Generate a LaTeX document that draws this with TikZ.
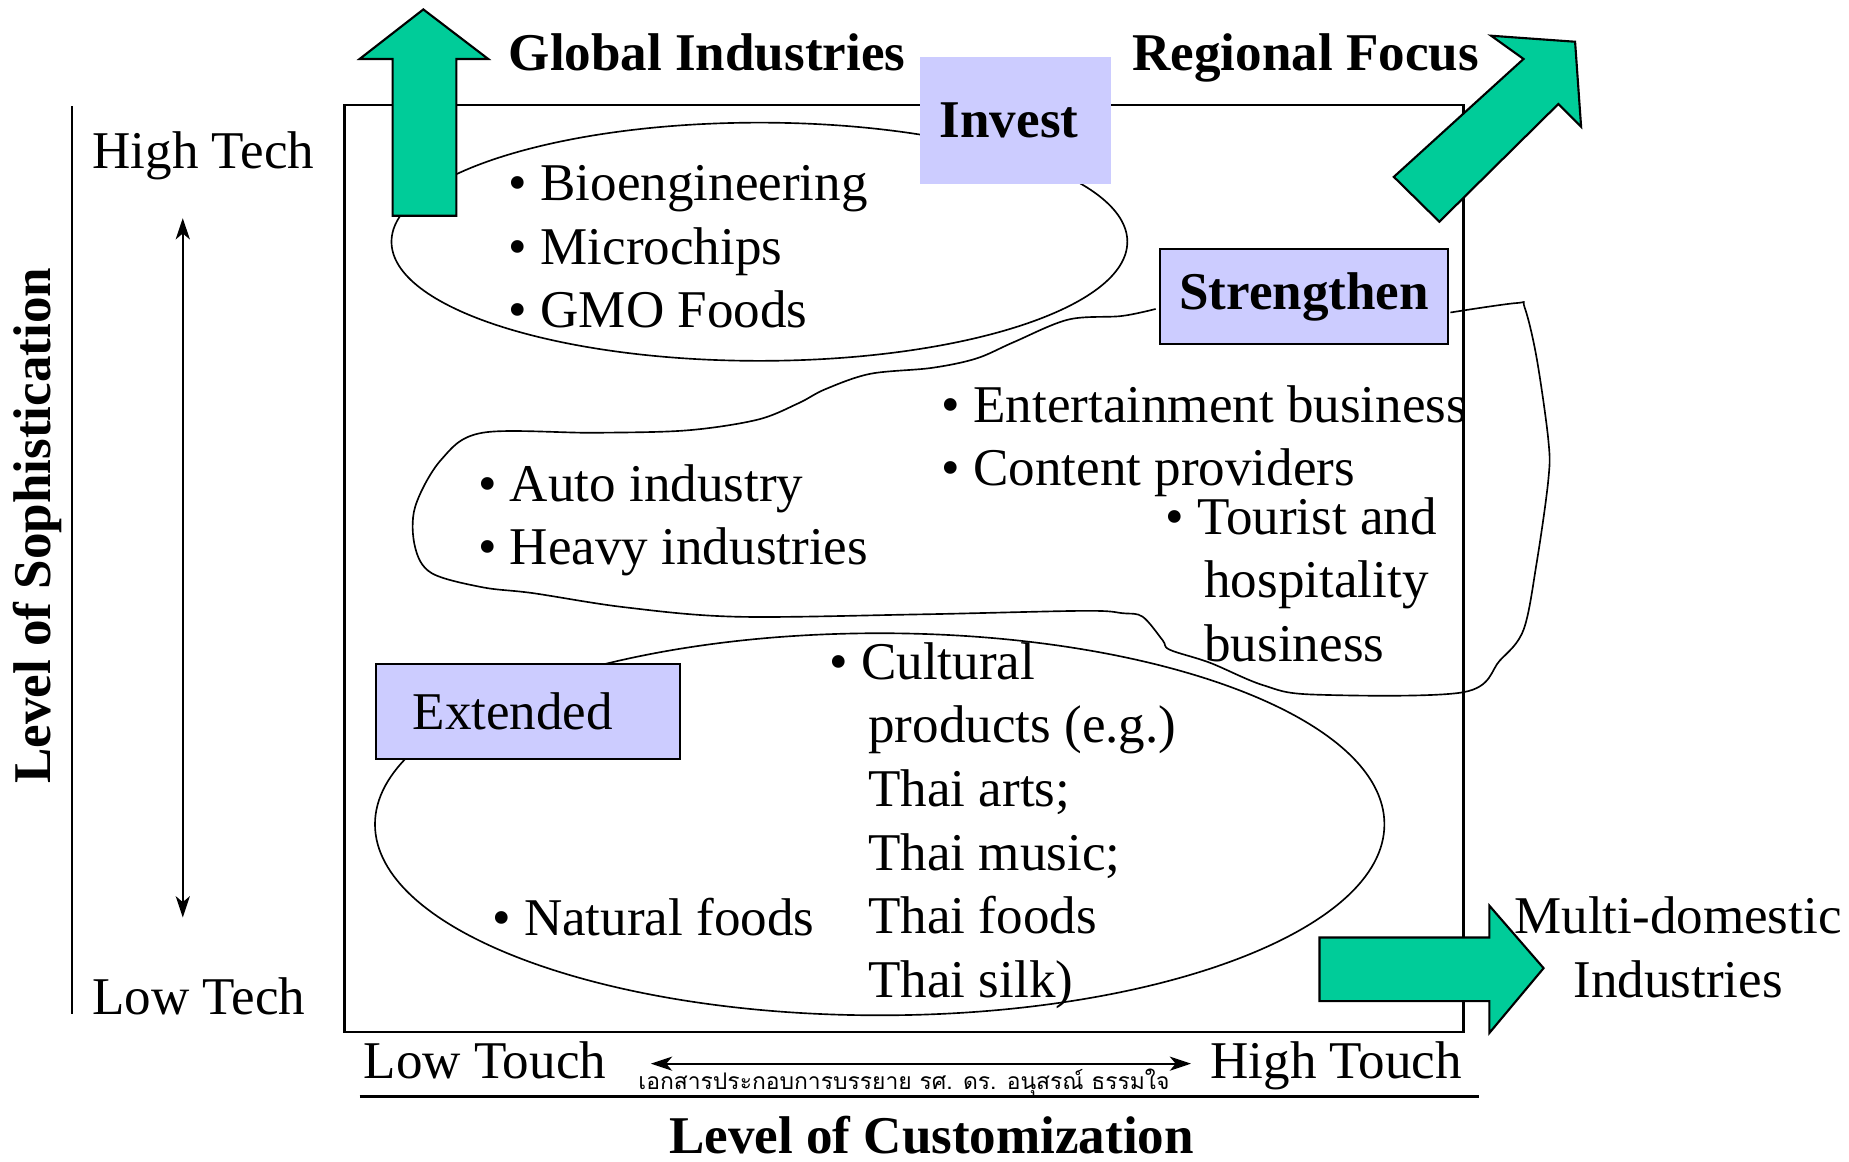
\documentclass[tikz,border=0pt]{standalone}
\usepackage{fontspec}
\setmainfont{Liberation Serif}
\newfontfamily\thaifont[Script=Thai]{Loma}
\usetikzlibrary{arrows.meta,positioning}

\definecolor{lavender}{RGB}{204,204,255}
\definecolor{seagreen}{RGB}{0,204,153}

\begin{document}
\begin{tikzpicture}[
  x=0.5pt, y=-0.5pt,
  every node/.style={font=\fontsize{22.5}{27}\selectfont, inner sep=0pt},
  itemtxt/.style={anchor=base west, align=left},
  headtxt/.style={font=\fontsize{22.5}{27}\selectfont\bfseries},
  tagbox/.style={rectangle, fill=lavender, minimum height=40.5pt},
  blob/.style={line width=0.7pt},
  bigarrow/.style={draw, line width=0.9pt, fill=seagreen, line join=miter},
  axisarrow/.style={{Stealth[length=9pt,width=6pt,inset=2.5pt]}-{Stealth[length=9pt,width=6pt,inset=2.5pt]}, line width=0.9pt}
]
\useasboundingbox (0,0) rectangle (1568,985);

% frame and axes
\draw[line width=1pt] (292,89) rectangle (1241,875);
\draw[line width=1pt] (61,90) -- (61,860);
\draw[line width=1.2pt] (305,930) -- (1254,930);

% clusters
\draw[blob] (644,205) ellipse [x radius=312, y radius=101];
\draw[blob] (746,699) ellipse [x radius=428, y radius=162];
\draw[blob] plot[smooth, tension=0.55] coordinates {
  (980,262) (951,268) (906,271) (860,290) (828,304) (790,312) (738,317)
  (700,330) (677,342) (642,356) (582,365) (504,367) (409,367) (374,390)
  (352,430) (352,464) (366,486) (409,498) (452,503) (530,515) (625,523)
  (780,521) (919,518) (952,520) (969,523) (986,543) (992,551) (1026,562)
  (1071,581) (1114,589) (1241,587) (1272,560) (1292,534) (1303,478)
  (1313,407) (1313,373) (1303,303) (1293,261) (1286,257) (1230,265)};

% block arrows
\draw[bigarrow] (333,183) -- (333,50) -- (305,50) -- (359,8) -- (414,50) -- (387,50) -- (387,183) -- cycle;
\draw[bigarrow] (1182,150) -- (1292,50) -- (1264.5,30.3) -- (1335.7,35.4) -- (1340.8,107.4) -- (1321.5,88.2) -- (1220.6,188) -- cycle;
\draw[bigarrow] (1119,795) -- (1263,795) -- (1263,768) -- (1309,821) -- (1263,876) -- (1263,849) -- (1119,849) -- cycle;

% strategy tags
\node[tagbox, text width=64pt, inner xsep=8.5pt, align=left, minimum height=54pt] (invest) at (861,102) {\bfseries Invest};
\node[tagbox, draw, line width=0.9pt, minimum width=122pt] (strengthen) at (1106,251.5) {\bfseries Strengthen};
\node[tagbox, draw, line width=0.9pt, text width=98pt, inner xsep=15.5pt, align=left, anchor=west] (extended) at (318,603.5) {Extended};

% headings
\node[headtxt, anchor=base west] (global) at (431,60) {Global Industries};
\node[headtxt, anchor=base west] (regional) at (960,60) {Regional Focus};
\node[align=center, anchor=base] (multidom) at (1423,846) {Multi-domestic\\Industries};

% axes labels
\node[anchor=base west] (hightech) at (78,143) {High Tech};
\node[anchor=base west] (lowtech) at (78,860) {Low Tech};
\node[headtxt, rotate=90] (sophist) at (32,446) {Level of Sophistication};
\node[anchor=base west] (lowtouch) at (308,915) {Low Touch};
\node[anchor=base east] (hightouch) at (1240,915) {High Touch};
\node[headtxt, anchor=base] (custom) at (790,978) {Level of Customization};
\node[anchor=base west, font=\thaifont\fontsize{9.7}{11}\selectfont] (credit) at (541,924) {เอกสารประกอบการบรรยาย รศ. ดร. อนุสรณ์ ธรรมใจ};

\coordinate (techtop) at (155,185);
\coordinate (techbot) at (155,778);
\draw[axisarrow] (techtop) -- (techbot);
\coordinate (touchl) at (552,902);
\coordinate (touchr) at (1010,902);
\draw[axisarrow] (touchl) -- (touchr);

% industries (base = last line)
\node[itemtxt] (hitech) at (431,278) {• Bioengineering\\• Microchips\\• GMO Foods};
\node[itemtxt] (media) at (798,412) {• Entertainment business\\• Content providers};
\node[itemtxt] (tourism) at (988,561) {• Tourist and\\\hspace*{16.5pt}hospitality\\\hspace*{16.5pt}business};
\node[itemtxt] (heavy) at (405,479) {• Auto industry\\• Heavy industries};
\node[itemtxt] (culture) at (703,846) {• Cultural\\\hspace*{16.5pt}products (e.g.)\\\hspace*{16.5pt}Thai arts;\\\hspace*{16.5pt}Thai music;\\\hspace*{16.5pt}Thai foods\\\hspace*{16.5pt}Thai silk)};
\node[itemtxt] (natural) at (417,793) {• Natural foods};

\end{tikzpicture}
\end{document}
